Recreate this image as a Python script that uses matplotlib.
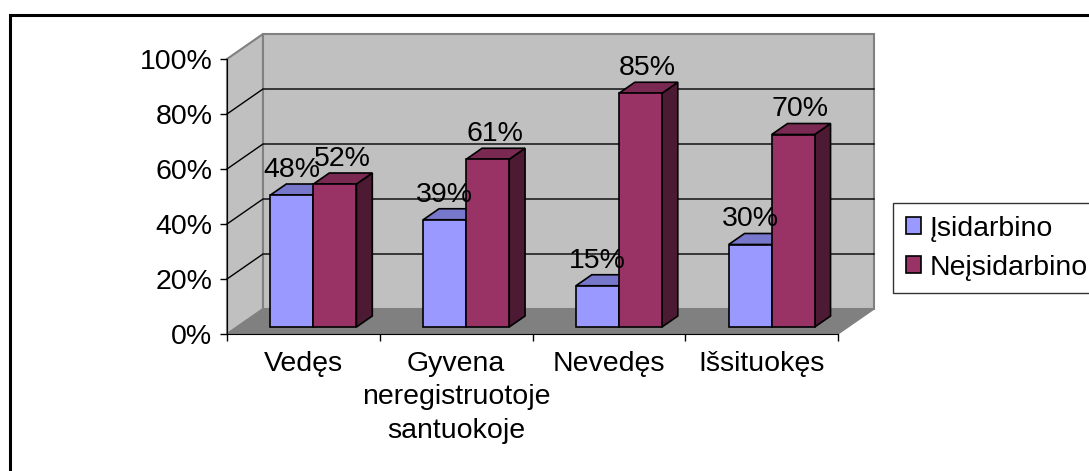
import matplotlib.pyplot as plt
from matplotlib.patches import Polygon, Rectangle, Patch

# categories and values (percent)
categories = ['Vedęs', 'Gyvena\nneregistruotoje\nsantuokoje', 'Nevedęs', 'Išsituokęs']
isidarbino = [48, 39, 15, 30]
neisidarbino = [52, 61, 85, 70]
series_names = ['Įsidarbino', 'Neįsidarbino']
y_ticks = [0, 20, 40, 60, 80, 100]

plt.rcParams['font.family'] = ['Liberation Sans', 'DejaVu Sans']
FS = 20.5

W, H = 1089, 471
fig = plt.figure(figsize=(W / 100, H / 100), dpi=100)
fig.patch.set_facecolor('white')

# front plane of the 3D box in pixels: x 227..838, y 334..59
ax = fig.add_axes([227 / W, 1 - 334 / H, (838 - 227) / W, (334 - 59) / H])
ax.set_xlim(0, 4)
ax.set_ylim(0, 100)
ax.patch.set_visible(False)

# depth offset of the box (data units)
DX = 36 / (611 / 4)
DY = 25 / 2.75
n = len(categories)

# walls and floor
wall = '#c0c0c0'
ax.add_patch(Polygon([(0, 0), (n, 0), (n + DX, DY), (DX, DY)], closed=True,
                     facecolor='#808080', edgecolor='#808080', lw=1, clip_on=False, zorder=0))
ax.add_patch(Polygon([(0, 0), (0, 100), (DX, 100 + DY), (DX, DY)], closed=True,
                     facecolor=wall, edgecolor='#808080', lw=1.5, clip_on=False, zorder=0))
ax.add_patch(Rectangle((DX, DY), n, 100, facecolor=wall, edgecolor='#808080',
                       lw=1.5, clip_on=False, zorder=0))
for g in y_ticks[1:-1]:
    ax.plot([0, DX, n + DX], [g, g + DY, g + DY], color='black', lw=1,
            clip_on=False, zorder=1)

# bars
w = 43 / (611 / 4)
d0, d1 = 0.28, 0.72
ddx, ddy = (d1 - d0) * DX, (d1 - d0) * DY


def bar3d(x0, h, front, top, side):
    xf, yf = x0 + d0 * DX, d0 * DY
    kw = dict(closed=True, edgecolor='black', lw=1.2, clip_on=False, zorder=3)
    ax.add_patch(Polygon([(xf + w, yf), (xf + w + ddx, yf + ddy),
                          (xf + w + ddx, yf + h + ddy), (xf + w, yf + h)], facecolor=side, **kw))
    ax.add_patch(Polygon([(xf, yf + h), (xf + w, yf + h),
                          (xf + w + ddx, yf + h + ddy), (xf + ddx, yf + h + ddy)], facecolor=top, **kw))
    ax.add_patch(Polygon([(xf, yf), (xf + w, yf), (xf + w, yf + h), (xf, yf + h)],
                         facecolor=front, **kw))
    return xf + w / 2, yf + h


blue = ('#9999ff', '#7777cc', '#4d4d80')
red = ('#993366', '#7a2952', '#4d1a33')
for i in range(n):
    c = i + 0.5
    bx, by = bar3d(c - w, isidarbino[i], *blue)
    rx, ry = bar3d(c, neisidarbino[i], *red)
    ax.annotate(f'{isidarbino[i]}%', (bx, by), xytext=(0, 18), textcoords='offset points',
                ha='center', va='center', fontsize=FS, zorder=5, annotation_clip=False)
    ax.annotate(f'{neisidarbino[i]}%', (rx, ry), xytext=(5, 18), textcoords='offset points',
                ha='center', va='center', fontsize=FS, zorder=5, annotation_clip=False)

# axes
for s in ['top', 'right']:
    ax.spines[s].set_visible(False)
ax.spines['left'].set_color('black')
ax.spines['bottom'].set_color('black')
ax.spines['left'].set_zorder(4)
ax.spines['bottom'].set_zorder(4)
ax.set_yticks(y_ticks)
ax.set_yticklabels([f'{t}%' for t in y_ticks], fontsize=FS)
ax.tick_params(axis='y', length=5, width=1, pad=5.5)
ax.set_xticks([i + 0.5 for i in range(n)])
ax.set_xticklabels(categories, fontsize=FS, linespacing=1.38)
ax.set_xticks(range(n + 1), minor=True)
ax.tick_params(axis='x', which='major', length=0, pad=12)
ax.tick_params(axis='x', which='minor', length=5, width=1)

# legend
handles = [Patch(facecolor=blue[0], edgecolor='black', lw=1.2),
           Patch(facecolor=red[0], edgecolor='black', lw=1.2)]
fig.legend(handles, series_names, loc='upper left', bbox_to_anchor=(893 / W, 1 - 203 / H),
           fontsize=FS, frameon=True, fancybox=False, edgecolor='black',
           handlelength=0.55, handleheight=0.55, handletextpad=0.3,
           borderpad=0.45, labelspacing=0.45, borderaxespad=0)
fig.legends[0].get_frame().set_linewidth(1)

# outer chart border (cut off at right and bottom)
fig.patches.append(Rectangle((10 / W, -0.1), 1.2, 1.1 - 15 / H, transform=fig.transFigure,
                             fill=False, edgecolor='black', lw=2.2, figure=fig))

fig.savefig('out.png', dpi=100)
